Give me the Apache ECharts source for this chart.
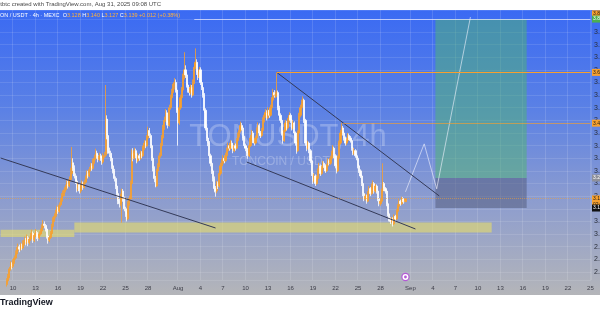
<!DOCTYPE html>
<html><head><meta charset="utf-8">
<script src="https://cdn.jsdelivr.net/npm/echarts@6/dist/echarts.min.js"></script>
<style>html,body{margin:0;padding:0;background:#fff}#c{width:600px;height:315px}</style>
</head><body><div id="c"></div>
<script>
// ---- time slots (4h candles) ----
const seriesStartUTC = [2025, 6, 8, 8];   // 2025-07-08 08:00 UTC (first slot)
const slotTotal = 473;                     // slots shown on the x axis (incl. future space)
const dataStartSlot = 4;                   // first slot with a candle

// ---- candles (prices in thousandths), TONUSDT 4h ----
const firstOpen = 2785;
const closes = [
2800,2815,2830,2862,2880,2872,
2890,2905,2921,2936,2950,2940,
2955,2945,2962,2975,2968,2985,
2965,2980,2992,3002,2975,2995,
3006,2990,2984,3000,3012,3026,
3040,3034,3020,2992,2975,2986,
3002,3030,3055,3070,3086,3100,
3090,3115,3130,3150,3160,3175,
3182,3200,3190,3215,3240,3282,
3260,3230,3210,3180,3195,3170,
3190,3200,3185,3205,3220,3240,
3230,3255,3270,3260,3285,3300,
3320,3310,3295,3310,3300,3285,
3310,3312,3455,3390,3330,3320,
3300,3270,3250,3220,3190,3160,
3130,3120,3150,3170,3140,3100,
3080,3060,3120,3140,3200,3320,
3300,3330,3310,3290,3310,3300,
3320,3310,3340,3360,3350,3380,
3410,3390,3350,3300,3260,3220,
3190,3250,3270,3310,3350,3380,
3420,3450,3480,3440,3430,3500,
3540,3560,3580,3600,3570,3490,
3440,3500,3540,3570,3620,3650,
3630,3590,3570,3560,3580,3550,
3600,3660,3680,3640,3620,3650,
3600,3580,3550,3490,3420,3380,
3360,3310,3280,3250,3220,3180,
3170,3200,3190,3240,3270,3280,
3300,3290,3310,3330,3350,3340,
3360,3350,3330,3350,3340,3370,
3390,3410,3430,3420,3380,3350,
3340,3320,3310,3350,3380,3400,
3370,3360,3380,3410,3430,3400,
3390,3410,3450,3470,3480,3460,
3490,3470,3500,3530,3560,3550,
3550,3560,3500,3470,3450,3400,
3370,3410,3440,3420,3450,3470,
3450,3420,3440,3400,3360,3330,
3400,3470,3500,3520,3530,3450,
3360,3340,3360,3330,3290,3240,
3210,3230,3200,3220,3250,3270,
3240,3260,3280,3270,3250,3270,
3290,3280,3300,3320,3340,3310,
3270,3250,3300,3360,3400,3420,
3400,3380,3360,3370,3390,3380,
3370,3340,3320,3330,3310,3300,
3270,3250,3230,3200,3160,3140,
3150,3130,3160,3180,3160,3190,
3200,3170,3190,3170,3140,3120,
3130,3170,3200,3180,3170,3120,
3080,3060,3050,3060,3040,3070,
3060,3090,3110,3130,3120,3140,
3135,3128,3139];
const lows = [
2775,2792,2808,2825,2855,2860,
2866,2882,2898,2912,2930,2928,
2935,2936,2940,2955,2955,2960,
2952,2958,2972,2985,2965,2968,
2988,2980,2972,2978,2994,3005,
3018,3022,3010,2982,2962,2968,
2980,2996,3022,3048,3062,3078,
3080,3084,3108,3122,3140,3150,
3165,3176,3180,3185,3208,3232,
3250,3220,3198,3165,3170,3160,
3162,3182,3175,3180,3198,3212,
3220,3225,3248,3250,3255,3278,
3292,3298,3284,3288,3290,3274,
3278,3300,3305,3375,3318,3305,
3288,3258,3240,3208,3178,3148,
3118,3105,3112,3045,3128,3090,
3068,3050,3055,3112,3135,3195,
3288,3294,3300,3280,3284,3290,
3294,3300,3305,3332,3340,3345,
3374,3380,3340,3290,3248,3205,
3185,3186,3244,3265,3302,3344,
3372,3412,3444,3430,3418,3425,
3492,3532,3550,3572,3560,3480,
3350,3432,3492,3532,3562,3612,
3618,3580,3560,3548,3552,3540,
3545,3594,3652,3630,3610,3614,
3590,3570,3540,3480,3410,3368,
3348,3300,3268,3238,3208,3165,
3148,3162,3178,3184,3232,3260,
3272,3280,3284,3302,3322,3330,
3334,3338,3320,3324,3330,3335,
3362,3382,3402,3410,3370,3340,
3328,3308,3298,3305,3344,3372,
3360,3350,3354,3374,3402,3390,
3380,3384,3404,3442,3460,3450,
3455,3460,3465,3494,3522,3540,
3538,3542,3490,3460,3440,3390,
3358,3365,3404,3410,3414,3442,
3440,3410,3414,3390,3350,3318,
3325,3394,3462,3492,3510,3440,
3350,3328,3334,3320,3280,3230,
3198,3204,3190,3194,3214,3244,
3230,3234,3254,3262,3242,3245,
3264,3272,3274,3294,3314,3300,
3260,3240,3245,3294,3354,3394,
3390,3370,3350,3352,3364,3372,
3362,3330,3312,3314,3302,3292,
3260,3242,3222,3190,3150,3130,
3132,3120,3126,3152,3150,3155,
3182,3160,3164,3160,3130,3110,
3112,3125,3165,3170,3160,3110,
3070,3050,3040,3044,3030,3036,
3050,3055,3084,3104,3112,3115,
3126,3120,3127];
const highs = [
2810,2825,2842,2870,2892,2888,
2900,2915,2935,2948,2962,2958,
2966,2962,2975,2990,2985,2998,
2992,2990,3005,3018,3010,3004,
3020,3012,2998,3010,3022,3038,
3055,3050,3040,3026,2998,2994,
3012,3040,3066,3082,3096,3112,
3108,3125,3142,3162,3172,3186,
3195,3212,3210,3228,3262,3345,
3300,3272,3240,3218,3205,3202,
3200,3212,3208,3215,3232,3252,
3250,3266,3282,3280,3298,3314,
3338,3330,3318,3322,3318,3306,
3320,3325,3590,3470,3400,3342,
3330,3308,3280,3258,3228,3198,
3170,3140,3160,3180,3178,3148,
3108,3090,3130,3152,3212,3335,
3340,3342,3338,3318,3320,3318,
3330,3328,3350,3372,3370,3392,
3425,3420,3398,3356,3308,3268,
3230,3258,3280,3322,3360,3392,
3432,3465,3495,3490,3450,3512,
3552,3575,3595,3618,3612,3578,
3500,3512,3552,3582,3635,3720,
3668,3640,3600,3582,3592,3590,
3612,3675,3735,3692,3652,3662,
3660,3610,3590,3558,3498,3428,
3390,3368,3318,3288,3258,3228,
3190,3210,3208,3250,3282,3295,
3312,3310,3322,3342,3362,3360,
3372,3370,3356,3360,3358,3380,
3402,3422,3445,3440,3428,3388,
3358,3348,3328,3360,3392,3412,
3408,3378,3390,3422,3442,3438,
3408,3420,3462,3482,3495,3490,
3502,3498,3512,3542,3575,3570,
3565,3640,3568,3508,3478,3456,
3408,3420,3452,3448,3460,3482,
3478,3456,3450,3446,3406,3366,
3410,3480,3512,3532,3545,3536,
3456,3368,3370,3366,3336,3296,
3248,3240,3236,3230,3260,3282,
3276,3270,3290,3288,3276,3278,
3300,3296,3310,3330,3352,3346,
3316,3276,3310,3370,3412,3440,
3428,3408,3386,3380,3400,3398,
3388,3376,3346,3340,3336,3318,
3306,3276,3256,3236,3206,3166,
3158,3156,3170,3190,3186,3200,
3212,3206,3198,3196,3176,3146,
3138,3180,3280,3206,3186,3176,
3126,3086,3066,3068,3066,3078,
3076,3098,3118,3138,3136,3148,
3146,3140,3140];

// ---- x tick labels ----
const xTickDays = ['07-10','07-13','07-16','07-19','07-22','07-25','07-28','08-01','08-04','08-07','08-10','08-13',
  '08-16','08-19','08-22','08-25','08-28','09-01','09-04','09-07','09-10','09-13','09-16','09-19','09-22','09-25'];
const monthNames = {'08':'Aug','09':'Sep'};

// ---- drawings (time, price) ----
const supportZones = [
  {from:'2025-07-08 08:00', to:'2025-07-18 04:00', low:2.988, high:3.017},
  {from:'2025-07-18 04:00', to:'2025-09-11 20:00', low:3.006, high:3.046}
];
const trendLines = [
  {from:'2025-07-08 08:00', p1:3.301, to:'2025-08-06 00:00', p2:3.024},
  {from:'2025-08-14 04:00', p1:3.640, to:'2025-09-04 20:00', p2:3.151},
  {from:'2025-08-10 04:00', p1:3.285, to:'2025-09-01 16:00', p2:3.020}
];
const rays = [
  {from:'2025-08-14 04:00', price:3.640, kind:'orange'},
  {from:'2025-08-23 00:00', price:3.439, kind:'orangeThin'},
  {from:'2025-08-03 04:00', price:3.851, kind:'white'}
];
const projectionTimes = ['2025-08-31 08:00','2025-09-02 20:00','2025-09-04 12:00','2025-09-09 00:00'];
const projectionPrices = [3.167, 3.357, 3.179, 3.859];
const position = {from:'2025-09-04 08:00', to:'2025-09-16 12:00', target:3.851, entry:3.222, stop:3.103};
const lastPrice = 3.139;
const axisTags = [
  {price:3.872, kind:'orange'}, {price:3.851, kind:'green'}, {price:3.640, kind:'orange'},
  {price:3.439, kind:'orange'}, {price:3.222, kind:'grey'}, {price:3.139, kind:'current'}, {price:3.103, kind:'black'}
];

// ---- build ----
const SLOT_MS = 4*3600*1000;
const t0 = Date.UTC(seriesStartUTC[0], seriesStartUTC[1], seriesStartUTC[2], seriesStartUTC[3]);
const pad = n => String(n).padStart(2,'0');
function fmt(ms){const d=new Date(ms);return d.getUTCFullYear()+'-'+pad(d.getUTCMonth()+1)+'-'+pad(d.getUTCDate())+' '+pad(d.getUTCHours())+':00';}
function slotOf(str){const [d,h]=str.split(' ');const [Y,M,D]=d.split('-').map(Number);const H=Number(h.split(':')[0]);return Math.round((Date.UTC(Y,M-1,D,H)-t0)/SLOT_MS);}
const categories=[];for(let s=0;s<slotTotal;s++)categories.push(fmt(t0+s*SLOT_MS));
const tickText={};xTickDays.forEach(md=>{const [m,d]=md.split('-');tickText['2025-'+md+' 00:00']=(d==='01'&&monthNames[m])?monthNames[m]:String(Number(d));});
const isTick=(i,v)=>tickText.hasOwnProperty(v);

const candleData=categories.map(()=>'-');
let prev=firstOpen;
for(let k=0;k<closes.length;k++){
  const o=prev/1000,c=closes[k]/1000;
  const l=Math.min(lows[k]/1000,o,c),h=Math.max(highs[k]/1000,o,c);
  candleData[dataStartSlot+k]=[o,c,l,h];prev=closes[k];
}
const ORANGE='#f7a02e';
const lastSlot=slotTotal-1;
const markLines=[];
trendLines.forEach(t=>markLines.push([{coord:[slotOf(t.from),t.p1],lineStyle:{color:'#343a58',width:1,type:'solid'}},{coord:[slotOf(t.to),t.p2]}]));
rays.forEach(r=>{
  const ls = r.kind==='orange'?{color:ORANGE,width:1.2}:r.kind==='orangeThin'?{color:'rgba(247,160,46,0.8)',width:0.8}:{color:'rgba(235,235,255,0.7)',width:1};
  markLines.push([{coord:[slotOf(r.from),r.price],lineStyle:Object.assign({type:'solid'},ls)},{coord:[lastSlot,r.price]}]);
});
markLines.push({yAxis:lastPrice,lineStyle:{color:'rgba(247,160,46,0.55)',width:1,type:'dotted'}});

const areas=[];
supportZones.forEach(z=>areas.push([{coord:[slotOf(z.from),z.high],itemStyle:{color:'rgba(232,222,105,0.6)'}},{coord:[slotOf(z.to),z.low]}]));
areas.push([{coord:[slotOf(position.from),position.target],itemStyle:{color:'rgba(80,182,110,0.5)'}},{coord:[slotOf(position.to),position.entry]}]);
areas.push([{coord:[slotOf(position.from),position.entry],itemStyle:{color:'rgba(80,88,120,0.5)'}},{coord:[slotOf(position.to),position.stop]}]);

const projData=projectionTimes.map((t,i)=>[slotOf(t),projectionPrices[i]]);

const bg={type:'linear',x:0,y:0,x2:0,y2:1,colorStops:[
  {offset:0,color:'#ffffff'},{offset:0.0317,color:'#ffffff'},
  {offset:0.0318,color:'#3a6af3'},{offset:0.35,color:'#5b81e5'},{offset:0.62,color:'#8a9bd0'},
  {offset:0.9365,color:'#b4b5b9'},{offset:0.9366,color:'#ffffff'},{offset:1,color:'#ffffff'}]};

const baseGraphics=[
  {type:'text',left:-1,top:1,style:{text:'ltbtc created with TradingView.com, Aug 31, 2025 09:08 UTC',fontSize:6,fill:'#4a4a4a',fontFamily:'Liberation Sans'}},
  {type:'text',left:0,top:12,style:{
    text:'{w|ON / USDT · 4h · MEXC  O}{o|3.128}{w| H}{o|3.140}{w| L}{o|3.127}{w| C}{o|3.139}{o| +0.012 (+0.38%)}',
    rich:{w:{fill:'#ffffff',fontSize:5.5,fontFamily:'Liberation Sans'},o:{fill:'#ffb13b',fontSize:5.5,fontFamily:'Liberation Sans'}}}},
  {type:'text',x:288,y:137,style:{text:'TONUSDT, 4h',fontSize:31,fill:'rgba(255,255,255,0.25)',align:'center',verticalAlign:'middle',fontFamily:'Liberation Sans'}},
  {type:'text',x:281,y:162,style:{text:'TONCOIN / USDT',fontSize:12,fill:'rgba(255,255,255,0.25)',align:'center',verticalAlign:'middle',fontFamily:'Liberation Sans'}},
  {type:'text',left:0,top:298,style:{text:'TradingView',fontSize:9,fontWeight:'bold',fill:'#131722',fontFamily:'Liberation Sans'}}
];

const chart=echarts.init(document.getElementById('c'),null,{renderer:'canvas',width:600,height:315});
chart.setOption({
  animation:false,
  backgroundColor:bg,
  grid:{left:0,right:9,top:10,bottom:35,containLabel:false,outerBoundsMode:'none'},
  xAxis:{type:'category',data:categories,boundaryGap:true,
    axisLine:{show:false},axisTick:{show:false},
    axisLabel:{interval:isTick,formatter:v=>tickText[v]||'',fontSize:6,color:'#3c3d48',margin:5,fontFamily:'Liberation Sans'},
    splitLine:{show:true,interval:isTick,lineStyle:{color:'rgba(255,255,255,0.13)',width:1}}},
  yAxis:{type:'value',position:'right',min:2.818,max:3.887,splitNumber:20,
    axisLine:{show:false},axisTick:{show:false},
    axisLabel:{fontSize:7,color:'#2a2e39',margin:3,showMinLabel:false,showMaxLabel:false,formatter:v=>v.toFixed(3),fontFamily:'Liberation Sans'},
    splitLine:{lineStyle:{color:'rgba(255,255,255,0.11)',width:1}}},
  series:[
    {type:'line',data:categories.map(()=>'-'),z:1,silent:true,
      markArea:{silent:true,label:{show:false},data:areas}},
    {type:'candlestick',data:candleData,z:2,barWidth:1.6,
      itemStyle:{color:ORANGE,color0:'#ffffff',borderColor:ORANGE,borderColor0:'#ffffff',borderWidth:0.8},
      markLine:{silent:true,symbol:['none','none'],label:{show:false},data:markLines}},
    {type:'line',data:projData,z:3,symbol:'none',silent:true,
      lineStyle:{color:'rgba(245,245,255,0.6)',width:1}}
  ],
  graphic:baseGraphics
});

// price-axis tags and event marker, positioned through the chart's own scales
const tagColors={orange:['#f7a02e','#1a1a1a'],green:['#4caf50','#ffffff'],grey:['#8e909a','#ffffff'],current:['#f7a02e','#1a1a1a'],black:['#111111','#ffffff']};
const extra=[];
axisTags.forEach(t=>{
  const y=chart.convertToPixel({yAxisIndex:0},t.price);
  const c=tagColors[t.kind];const h=t.kind==='current'?12:7;
  extra.push({type:'rect',shape:{x:592,y:y-3.5,width:10,height:h},style:{fill:c[0]},z:50});
  extra.push({type:'text',x:593,y:y-3,style:{text:t.price.toFixed(3)+(t.kind==='current'?'\n02:51':''),fontSize:5,lineHeight:6,fill:c[1],fontFamily:'Liberation Sans'},z:51});
});
const mx=chart.convertToPixel({xAxisIndex:0},dataStartSlot+closes.length-1);
extra.push({type:'circle',shape:{cx:mx,cy:277,r:3.6},style:{fill:'#ffffff',stroke:'#b45ad6',lineWidth:1.2},z:50});
extra.push({type:'circle',shape:{cx:mx,cy:277,r:1.4},style:{fill:'#b45ad6'},z:51});
chart.setOption({graphic:baseGraphics.concat(extra)});
</script></body></html>
